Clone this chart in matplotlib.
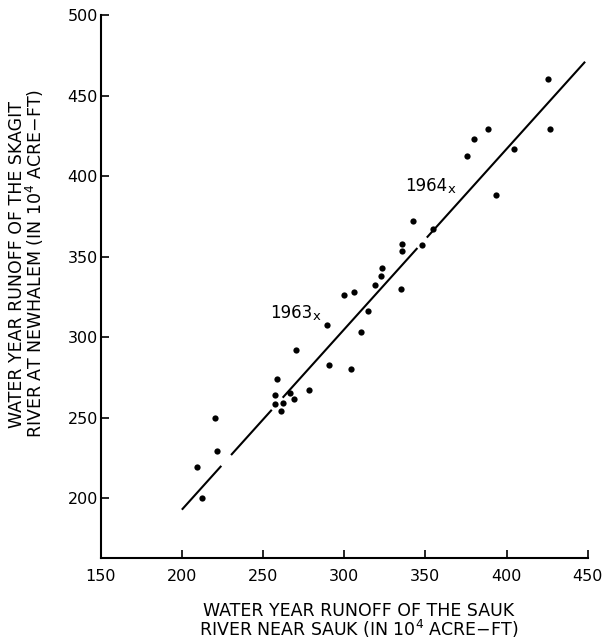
import numpy as np
import matplotlib.pyplot as plt

# Sauk runoff (x) vs Skagit runoff at Newhalem (y), in 10^4 acre-ft
sauk = [212.4, 209.3, 221.8, 220.6, 260.9, 257.6, 262.3, 268.9, 257.2, 266.6,
        278.2, 258.6, 304.4, 290.5, 270.1, 310.6, 289.2, 314.7, 299.9, 306.1,
        319.2, 334.8, 322.7, 323.5, 335.5, 335.5, 347.8, 354.9, 342.6, 393.6,
        375.5, 404.7, 380.0, 388.4, 426.6, 425.8]
skagit = [200.4, 219.3, 229.5, 250.2, 254.5, 258.8, 259.5, 261.5, 264.4, 265.5,
          267.3, 273.9, 280.1, 283.0, 292.3, 303.3, 307.8, 316.5, 326.0, 328.1,
          332.4, 329.9, 338.0, 342.7, 353.7, 357.6, 357.4, 367.1, 372.3, 388.6,
          412.8, 416.9, 423.1, 429.5, 429.1, 460.5]

# labelled years
years = ['1963', '1964']
year_x = [282.8, 366.3]
year_y = [312.6, 391.5]

# fitted line ends and the breaks left in it
fit_x = [200.0, 448.4]
fit_y = [193.0, 471.0]
fit_breaks = [(224.3, 230.3), (255.4, 262.1), (345.1, 350.9)]

plt.rcParams['font.family'] = 'DejaVu Sans'

fig = plt.figure(figsize=(6.08, 6.44), dpi=100)
ax = fig.add_axes([0.1656, 0.1335, 0.8010, 0.8432])

# line drawn in pieces between the breaks
starts = [fit_x[0]] + [b[1] for b in fit_breaks]
ends = [b[0] for b in fit_breaks] + [fit_x[1]]
for s, e in zip(starts, ends):
    xs = np.array([s, e])
    ax.plot(xs, np.interp(xs, fit_x, fit_y), color='black', lw=1.5,
            solid_capstyle='butt')

ax.plot(sauk, skagit, 'o', color='black', ms=4.5, mec='none')

for lab, xv, yv in zip(years, year_x, year_y):
    ax.text(xv, yv, 'x', fontsize=9.5, ha='center', va='center')
    ax.annotate(lab, (xv, yv), xytext=(-3, -1), textcoords='offset points',
                fontsize=12, ha='right', va='baseline')

ax.set_xlim(150, 450)
ax.set_ylim(163, 500)
ax.set_xticks([150, 200, 250, 300, 350, 400, 450])
ax.set_yticks([200, 250, 300, 350, 400, 450, 500])
ax.spines['top'].set_visible(False)
ax.spines['right'].set_visible(False)
ax.spines['left'].set_linewidth(1.5)
ax.spines['bottom'].set_linewidth(1.5)
ax.tick_params(axis='x', direction='in', length=6, width=1.2, pad=8, labelsize=11.5)
ax.tick_params(axis='y', direction='in', length=6, width=1.2, pad=2, labelsize=11.5)

fig.text(359 / 608, 1 - 621 / 644,
         'WATER YEAR RUNOFF OF THE SAUK\nRIVER NEAR SAUK (IN 10$^4$ ACRE\u2212FT)',
         ha='center', va='center', fontsize=12.5, linespacing=0.85)
fig.text(27 / 608, 1 - 264 / 644,
         'WATER YEAR RUNOFF OF THE SKAGIT\nRIVER AT NEWHALEM (IN 10$^4$ ACRE\u2212FT)',
         ha='center', va='center', rotation=90, fontsize=12.5, linespacing=0.9)

fig.savefig('out.png', dpi=100)
